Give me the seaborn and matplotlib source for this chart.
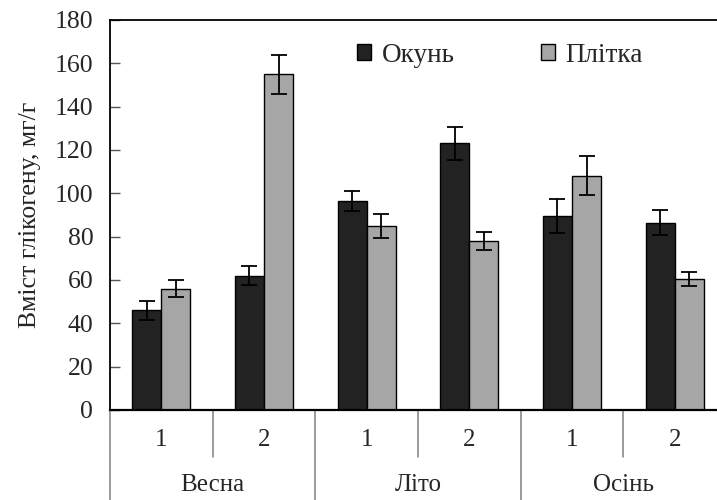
import numpy as np
import pandas as pd
import matplotlib
matplotlib.use("Agg")
import matplotlib.pyplot as plt
import seaborn as sns

seasons = ["Весна", "Літо", "Осінь"]
samples = ["1", "2"]
fish = ["Окунь", "Плітка"]

perch = [46, 62, 96.5, 123, 89.5, 86.5]
perch_err = [4.5, 4.5, 4.8, 7.5, 8, 5.7]
roach = [56, 155, 85, 78, 108, 60.5]
roach_err = [4, 9, 5.4, 4, 9, 3.4]

groups = [s + " " + n for s in seasons for n in samples]
df = pd.DataFrame({
    "group": groups * 2,
    "fish": [fish[0]] * 6 + [fish[1]] * 6,
    "value": perch + roach,
    "err": perch_err + roach_err,
})

sns.set_style("white")
plt.rcParams["font.family"] = ["Liberation Serif", "DejaVu Serif"]
plt.rcParams["font.size"] = 18.5

fig = plt.figure(figsize=(7.17, 5), dpi=100)
ax = fig.add_axes([110 / 717, 90 / 500, 616 / 717, 390 / 500])

sns.barplot(data=df, x="group", y="value", hue="fish", order=groups, hue_order=fish,
            palette=["#222222", "#a6a6a6"], width=0.565, edgecolor="black",
            linewidth=1, errorbar=None, ax=ax, legend=False)
bars = list(ax.containers)

# error bars from the bar containers
for cont, errs in zip(bars, [perch_err, roach_err]):
    xs = [p.get_x() + p.get_width() / 2 for p in cont.patches]
    ys = [p.get_height() for p in cont.patches]
    ax.errorbar(xs, ys, yerr=errs, fmt="none", ecolor="black", elinewidth=1.3,
                capsize=5.5, capthick=1.3)

ax.set_ylim(0, 180)
ax.set_yticks(range(0, 181, 20))
ax.set_xlim(-0.5, 5.5)
ax.set_xticks([])
ax.set_xlabel("")
ax.set_ylabel("Вміст глікогену, мг/г", fontsize=18.5, labelpad=10)
ax.tick_params(axis="y", direction="in", length=7, width=1, color="#555555",
               left=True, pad=12, labelsize=18.5)
ax.spines["right"].set_visible(False)
for side in ["left", "top"]:
    ax.spines[side].set_color("black")
    ax.spines[side].set_linewidth(1.3)
ax.spines["bottom"].set_color("black")
ax.spines["bottom"].set_linewidth(1.6)

# two-level category axis
trans = ax.get_xaxis_transform()
for i in range(len(groups) + 1):
    low = -90 / 390 if i % 2 == 0 else -47 / 390
    ax.plot([i - 0.5, i - 0.5], [0, low], transform=trans, color="#808080",
            lw=1.1, clip_on=False)
for i, g in enumerate(groups):
    ax.text(i, -30 / 390, g.split()[1], transform=trans, ha="center", va="center", fontsize=18)
for j, s in enumerate(seasons):
    ax.text(2 * j + 0.5, -75 / 390, s, transform=trans, ha="center", va="center", fontsize=18)

handles = [cont.patches[0] for cont in bars]
ax.legend(handles, fish, loc="center left", bbox_to_anchor=(0.401, 0.91), ncol=2,
          frameon=False, fontsize=19.5, handlelength=0.5, handleheight=0.5,
          handletextpad=0.4, columnspacing=3.2, borderpad=0, borderaxespad=0)

fig.savefig("out.png", dpi=100)
